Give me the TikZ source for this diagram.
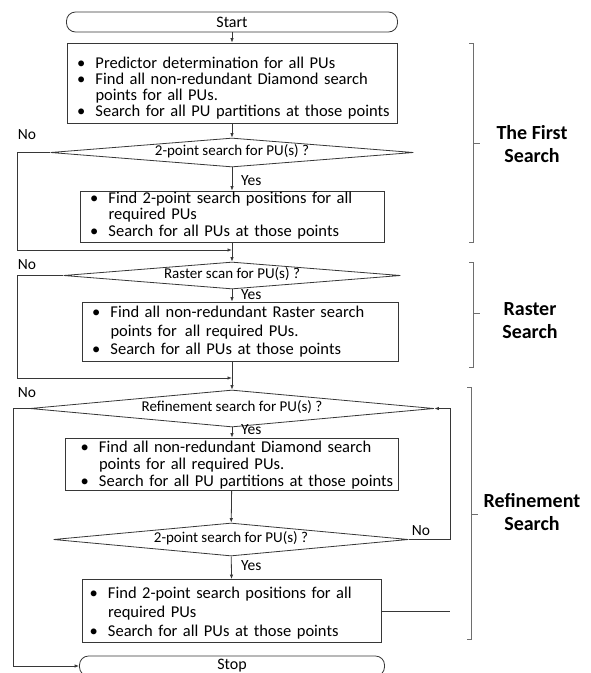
\documentclass[tikz,border=0pt]{standalone}
\usepackage{fontspec}
\setmainfont{Carlito}
\usetikzlibrary{arrows.meta, shapes.geometric, calc}
\definecolor{linegray}{RGB}{55,55,55}
\definecolor{brackgray}{RGB}{110,110,110}
\newcommand{\fsz}[2]{\fontsize{#1}{#2}\selectfont}
% bullet list, lowered by #1 inside its box
\newcommand{\blist}[2]{\raisebox{-#1}[\height][\depth]{\begin{tabular}{@{}p{18.5pt}@{}l@{}}#2\end{tabular}}}

\begin{document}
\begin{tikzpicture}[x=1pt, y=-1pt,
  term/.style={draw=linegray, line width=0.8pt, rounded corners=9pt, minimum height=20pt, inner sep=0pt, font=\fsz{16}{19}},
  procbox/.style={draw=linegray, line width=0.8pt, inner ysep=0pt, align=left},
  decision/.style={draw=linegray, line width=0.8pt, diamond, aspect=12, inner sep=0pt, text height=9pt, text depth=3pt, font=\fsz{15}{18}},
  flow/.style={draw=linegray, line width=0.8pt, -{Latex[length=4.5pt,width=3.5pt]}},
  link/.style={draw=linegray, line width=0.8pt},
  lbl/.style={inner sep=0pt, font=\fsz{15.5}{18}},
  brace/.style={draw=brackgray, line width=0.9pt},
  grouplbl/.style={align=center, font=\bfseries\fsz{20}{23}}]

  \useasboundingbox (0,0) rectangle (591,673);

  % The first search
  \node[term, minimum width=331pt] (start) at (232,22) {Start};
  \node[procbox, text width=310pt, inner xsep=10pt, minimum height=80pt, font=\fsz{16.5}{15.7}] (diasrch) at (232,83)
    {\blist{6pt}{%
     \textbullet & Predictor determination for all PUs\\
     \textbullet & Find all non-redundant Diamond search\\
                 & points for all PUs.\\
     \textbullet & Search for all PU partitions at those points}};
  \node[decision, minimum width=363pt, minimum height=29pt] (pt2a) at (232,152.5) {2-point search for PU(s) ?};
  \node[procbox, text width=284pt, inner xsep=10pt, minimum height=51pt, font=\fsz{16.5}{15.8}] (twopos1) at (232,216.5)
    {\blist{0pt}{%
     \textbullet & Find 2-point search positions for all\\
                 & required PUs\\
     \textbullet & Search for all PUs at those points}};

  % Raster search
  \node[decision, minimum width=337pt, minimum height=27pt] (raster) at (232,275.5) {Raster scan for PU(s) ?};
  \node[procbox, text width=296pt, inner xsep=10pt, minimum height=59pt, font=\fsz{16.5}{18.5}] (rastbox) at (240,331.5)
    {\blist{1pt}{%
     \textbullet & Find all non-redundant Raster search\\
                 & points for\, all required PUs.\\
     \textbullet & Search for all PUs at those points}};

  % Refinement search
  \node[decision, minimum width=404pt, minimum height=37pt] (refine) at (232,408.5) {Refinement search for PU(s) ?};
  \node[procbox, text width=303pt, inner xsep=15pt, minimum height=52pt, font=\fsz{16.5}{17}] (diabox) at (232,464)
    {\blist{2.5pt}{%
     \textbullet & Find all non-redundant Diamond search\\
                 & points for all required PUs.\\
     \textbullet & Search for all PU partitions at those points}};
  \node[decision, minimum width=355pt, minimum height=33pt] (pt2b) at (231,539.5) {2-point search for PU(s) ?};
  \node[procbox, text width=285pt, inner xsep=7pt, minimum height=63pt, font=\fsz{16.5}{19}] (twopos2) at (232,611)
    {\blist{3pt}{%
     \textbullet & Find 2-point search positions for all\\
                 & required PUs\\
     \textbullet & Search for all PUs at those points}};
  \node[term, minimum width=305pt] (stop) at (232,666) {Stop};

  % merge points and side lanes
  \coordinate (m1) at (232,250);
  \coordinate (m2) at (232,378);
  \coordinate (lane1) at (17,0);
  \coordinate (lane2) at (13,0);
  \coordinate (laneR) at (450,0);

  % main flow
  \draw[flow] (start) -- (diasrch);
  \draw[flow] (diasrch) -- (pt2a);
  \draw[flow] (pt2a) -- (twopos1);
  \draw[flow] (twopos1) -- (raster);
  \draw[flow] (raster.south) -- (raster.south |- rastbox.north);
  \draw[flow] (rastbox.south -| m2) -- (refine.north);
  \draw[flow] (refine) -- (diabox);
  \draw[flow] (diabox) -- (pt2b);
  \draw[flow] (pt2b) -- (twopos2);

  % No branches
  \draw[flow] (pt2a.west) -- (pt2a.west -| lane1) |- (m1);
  \draw[flow] (raster.west) -- (raster.west -| lane1) |- (m2);
  \draw[flow] (refine.west) -- (refine.west -| lane2) |- (stop.west);
  \draw[flow] (pt2b.east) -- (pt2b.east -| laneR) |- (refine.east);
  \draw[link] (twopos2.east) -- (twopos2.east -| laneR);

  % Yes / No labels
  \node[lbl, anchor=west] (yes1) at (241,181) {Yes};
  \node[lbl, anchor=west] (yes2) at (241,295) {Yes};
  \node[lbl, anchor=west] (yes3) at (241,430) {Yes};
  \node[lbl, anchor=west] (yes4) at (241,566) {Yes};
  \node[lbl] (no1) at (27,135) {No};
  \node[lbl] (no2) at (27,265) {No};
  \node[lbl] (no3) at (27,393) {No};
  \node[lbl] (no4) at (421,531) {No};

  % brackets for the three stages
  \foreach \t/\b/\m/\x in {43/242/143/473, 262/367/313/473, 387/639/514/471}{
    \draw[brace] (\x-4,\t) -- (\x,\t) -- (\x,\b) -- (\x-4,\b);
    \draw[brace] (\x,\m) -- (\x+7,\m);
  }
  \node[grouplbl] (grpfirst) at (532,144) {The First\\Search};
  \node[grouplbl] (grpraster) at (530,321) {Raster\\Search};
  \node[grouplbl] (grprefine) at (532,512) {Refinement\\Search};
\end{tikzpicture}
\end{document}
